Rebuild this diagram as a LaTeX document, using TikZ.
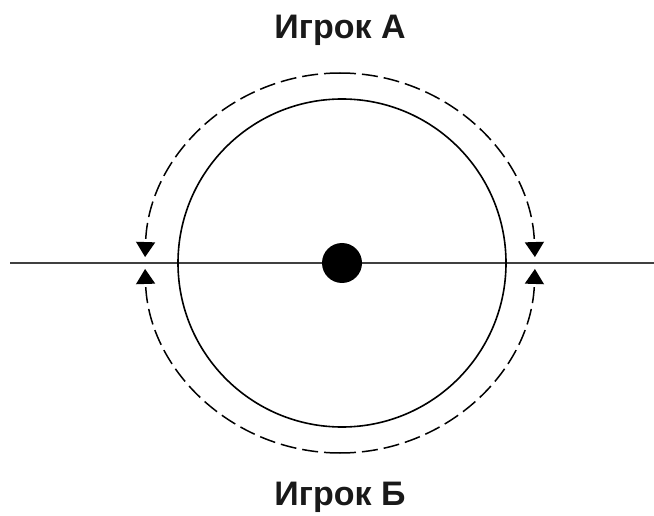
\documentclass[tikz,border=0pt]{standalone}
\usepackage{fontspec}
\setmainfont{Liberation Sans}
\usetikzlibrary{arrows.meta}
\begin{document}
\begin{tikzpicture}[x=1pt,y=1pt,
  lbl/.style={font=\bfseries\fontsize{34}{40}\selectfont, inner sep=0pt, text=black!90},
  dsh/.style={line width=1.5pt, dash pattern=on 16pt off 6pt, -{Triangle[width=19pt,length=15pt]}},
  ring/.style={line width=1.6pt},
  axis/.style={line width=2pt, draw=black!75}]
\useasboundingbox (0,0) rectangle (654,515);
\coordinate (L) at (10,252);
\coordinate (R) at (654,252);
\draw[axis] (L) -- (R);
\node[circle, fill=black, minimum size=40pt, inner sep=0pt] (c) at (342,252) {};
\draw[ring] (c) circle[radius=164];
\coordinate (top) at (340,442);
\coordinate (bot) at (340,62);
\draw[dsh] (top) arc[start angle=90, end angle=178.2, x radius=195, y radius=190];
\draw[dsh] (top) arc[start angle=90, end angle=1.8, x radius=195, y radius=190];
\draw[dsh] (bot) arc[start angle=270, end angle=181.8, x radius=195, y radius=190];
\draw[dsh] (bot) arc[start angle=270, end angle=358.2, x radius=195, y radius=190];
\node[lbl] (A) at (340,485) {Игрок А};
\node[lbl] (B) at (340,18) {Игрок Б};
\end{tikzpicture}
\end{document}
